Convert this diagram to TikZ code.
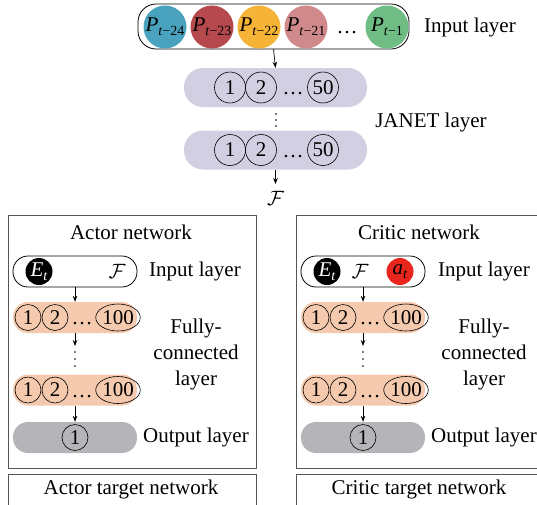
\documentclass[tikz,border=0pt]{standalone}
\usepackage{fontspec}
\setmainfont{Liberation Serif}
\usetikzlibrary{arrows.meta,shapes.geometric}

\definecolor{pA}{HTML}{4AA3BE}
\definecolor{pB}{HTML}{B5494D}
\definecolor{pC}{HTML}{F5B437}
\definecolor{pD}{HTML}{D18A8C}
\definecolor{pE}{HTML}{6FBC84}
\definecolor{janet}{HTML}{D3CFE3}
\definecolor{dense}{HTML}{F5C9AE}
\definecolor{outgray}{HTML}{B5B5B9}
\definecolor{actred}{HTML}{E8261E}
\definecolor{frame}{HTML}{555555}

% italic symbol with a small lowered subscript
\newcommand\symsub[2]{\textit{#1}\raisebox{-0.45ex}{\fontsize{14}{14}\selectfont #2}}
% horizontal ellipsis sitting on the text baseline
\newcommand\hdots{\vphantom{1}\ldots}

\begin{document}
\begin{tikzpicture}[x=1pt,y=-1pt,
  font=\fontsize{21}{25}\selectfont,
  lbl/.style={inner sep=0pt, align=center},
  pcirc/.style={circle, inner sep=0pt, minimum size=43pt},
  unitbig/.style={circle, draw, line width=0.6pt, inner sep=0pt, minimum size=31pt},
  unitsm/.style={circle, draw, line width=0.6pt, inner sep=0pt, minimum size=26pt},
  unitwide/.style={ellipse, draw, line width=0.6pt, inner sep=0pt, minimum width=35pt, minimum height=27pt},
  inbox/.style={draw, line width=0.8pt, rounded corners=15pt, minimum width=124pt, minimum height=31pt},
  densebar/.style={fill=dense, rounded corners=15pt, minimum width=124pt, minimum height=31pt},
  outbar/.style={fill=outgray, rounded corners=15pt, minimum width=124pt, minimum height=31pt},
  janetbar/.style={fill=janet, rounded corners=19pt, minimum width=183pt, minimum height=39pt},
  netframe/.style={draw=frame, line width=0.9pt},
  arr/.style={-{Stealth[length=6pt,width=4.5pt]}, line width=0.7pt},
]
\useasboundingbox (0,0) rectangle (537,504);

% ---------- input sequence ----------
\node[draw, line width=0.8pt, rounded corners=18pt, minimum width=271pt, minimum height=45pt] (seq) at (273.5,26.5) {};
\node[pcirc, fill=pA] (p24) at (165,27) {\symsub{P}{\textit{t}−24}};
\node[pcirc, fill=pB] (p23) at (212,27) {\symsub{P}{\textit{t}−23}};
\node[pcirc, fill=pC] (p22) at (259,27) {\symsub{P}{\textit{t}−22}};
\node[pcirc, fill=pD] (p21) at (306,27) {\symsub{P}{\textit{t}−21}};
\node[lbl] (pdots) at (347,27) {\hdots};
\node[pcirc, fill=pE] (p1) at (387,27) {\symsub{P}{\textit{t}−1}};
\node[lbl] (seqlbl) at (470,27) {Input layer};

% ---------- JANET layer ----------
\node[janetbar] (jbar1) at (275.5,87.5) {};
\node[unitbig] (j1a) at (230,87.5) {1};
\node[unitbig] (j1b) at (261,87.5) {2};
\node[lbl] (j1d) at (293,88) {\hdots};
\node[unitbig] (j1c) at (323,87.5) {50};

\node[janetbar] (jbar2) at (275.5,150) {};
\node[unitbig] (j2a) at (230,150) {1};
\node[unitbig] (j2b) at (261,150) {2};
\node[lbl] (j2d) at (293,150.5) {\hdots};
\node[unitbig] (j2c) at (323,150) {50};

\foreach \yy in {114,120,126} \fill (276,\yy) circle (0.9pt);
\node[lbl] (janetlbl) at (431,122) {JANET layer};

\coordinate (featend) at (275.5,184);
\node[lbl] (feat) at (275.5,198) {$\mathcal{F}$};
\draw[arr] (seq.south) -- (jbar1.north);
\draw[arr] (jbar2.south) -- (featend);

% ---------- actor network ----------
\draw[netframe] (8,215) rectangle (256,468);
\node[lbl] (atitle) at (131,232) {Actor network};
\node[inbox] (ain) at (75,271.5) {};
\node[circle, fill=black, text=white, inner sep=0pt, minimum size=27pt] (aE) at (39,271.5) {\symsub{E}{\textit{t}}};
\node[lbl] (aF) at (117,271) {$\mathcal{F}$};
\node[lbl] (ainlbl) at (195,271) {Input layer};

\node[densebar] (ad1) at (75,317.5) {};
\node[unitsm] (ad1a) at (28,317.5) {1};
\node[unitsm] (ad1b) at (55,317.5) {2};
\node[lbl] (ad1d) at (82,318) {\hdots};
\node[unitwide] (ad1c) at (118,317.5) {100};

\foreach \yy in {352,359,366} \fill (75,\yy) circle (0.9pt);

\node[densebar] (ad2) at (75,390) {};
\node[unitsm] (ad2a) at (28,390) {1};
\node[unitsm] (ad2b) at (55,390) {2};
\node[lbl] (ad2d) at (82,390.5) {\hdots};
\node[unitwide] (ad2c) at (118,390) {100};

\node[outbar] (aout) at (75,437.5) {};
\node[unitsm] (aouta) at (75,437.5) {1};

\node[lbl, font=\fontsize{21}{26}\selectfont] (afclbl) at (196,354) {Fully-\\connected\\layer};
\node[lbl] (aoutlbl) at (196,437.5) {Output layer};

\coordinate (adend) at (75,346);
\draw[arr] (ain.south) -- (ad1.north);
\draw[arr] (ad1.south) -- (adend);
\draw[arr] (ad2.south) -- (aout.north);

\draw[netframe] (8,474) rectangle (256,520);
\node[lbl] (attitle) at (131,489) {Actor target network};

% ---------- critic network ----------
\draw[netframe] (296,215) rectangle (544,468);
\node[lbl] (ctitle) at (419,232) {Critic network};
\node[inbox] (cin) at (363,271.5) {};
\node[circle, fill=black, text=white, inner sep=0pt, minimum size=27pt] (cE) at (327,271.5) {\symsub{E}{\textit{t}}};
\node[lbl] (cF) at (360,271) {$\mathcal{F}$};
\node[circle, fill=actred, inner sep=0pt, minimum size=27pt] (ca) at (400,271.5) {\symsub{a}{\textit{t}}};
\node[lbl] (cinlbl) at (484,271) {Input layer};

\node[densebar] (cd1) at (363,317.5) {};
\node[unitsm] (cd1a) at (316,317.5) {1};
\node[unitsm] (cd1b) at (343,317.5) {2};
\node[lbl] (cd1d) at (370,318) {\hdots};
\node[unitwide] (cd1c) at (406,317.5) {100};

\foreach \yy in {352,359,366} \fill (363,\yy) circle (0.9pt);

\node[densebar] (cd2) at (363,390) {};
\node[unitsm] (cd2a) at (316,390) {1};
\node[unitsm] (cd2b) at (343,390) {2};
\node[lbl] (cd2d) at (370,390.5) {\hdots};
\node[unitwide] (cd2c) at (406,390) {100};

\node[outbar] (cout) at (363,437.5) {};
\node[unitsm] (couta) at (363,437.5) {1};

\node[lbl, font=\fontsize{21}{26}\selectfont] (cfclbl) at (484,354) {Fully-\\connected\\layer};
\node[lbl] (coutlbl) at (484,437.5) {Output layer};

\coordinate (cdend) at (363,346);
\draw[arr] (cin.south) -- (cd1.north);
\draw[arr] (cd1.south) -- (cdend);
\draw[arr] (cd2.south) -- (cout.north);

\draw[netframe] (296,474) rectangle (544,520);
\node[lbl] (cttitle) at (419,489) {Critic target network};
\end{tikzpicture}
\end{document}
